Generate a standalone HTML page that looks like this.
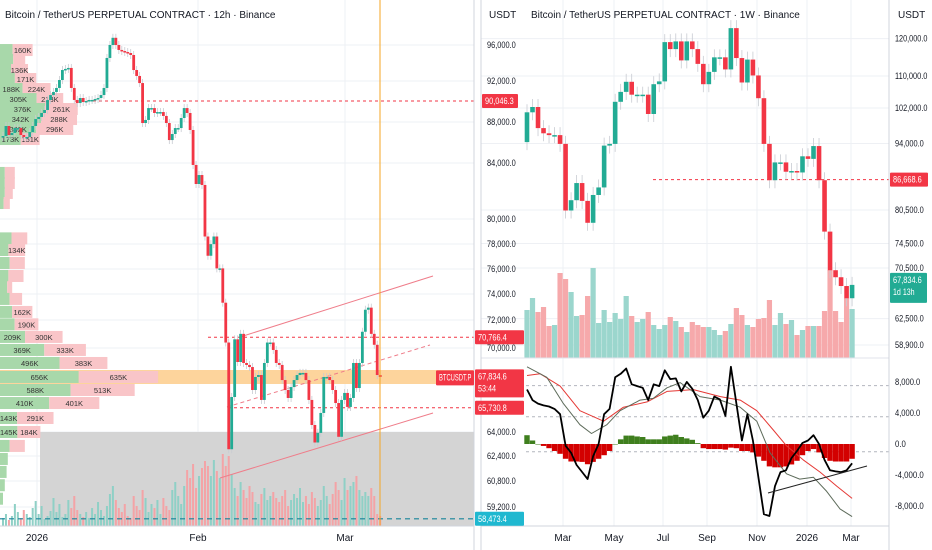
<!DOCTYPE html>
<html><head><meta charset="utf-8">
<style>
html,body{margin:0;padding:0;background:#fff;}
svg{display:block;font-family:"Liberation Sans",sans-serif;}
</style></head>
<body>
<svg id="chart" width="932" height="550" viewBox="0 0 932 550" xmlns="http://www.w3.org/2000/svg">
<rect x="0" y="0" width="932" height="550" fill="#ffffff"/>
<g id="grid"></g>
<g id="leftPane"></g>
<g id="rightPane"></g>
<g id="osc"></g>
<g id="axes"></g>
</svg>
<script>
// ---------- LEFT CHART DATA (12h) ----------
const leftFirstOpen = 86500;
const leftCloses = [86630,87610,86730,86930,87410,87410,86730,86540,86540,87020,87610,88290,88490,88880,89170,90150,90630,90930,91320,92110,93220,93340,93450,91320,90150,89850,90340,89950,90050,90150,90150,90240,90340,90630,91320,94560,96000,96800,96000,95450,95330,95220,95110,94890,93220,92560,91800,87900,88200,89360,89360,88880,88970,88970,88590,87900,86240,86830,87410,87410,88390,89360,88880,87220,83860,82500,83140,82430,78600,
77060,77990,78600,76050,76050,73330,70390,62850,66500,70620,69000,71010,68930,68790,68640,67000,67930,68070,66290,68930,70390,70390,69860,68930,68790,67710,67000,66430,67210,67710,68070,68220,68220,67710,66290,64500,63300,63940,65360,67930,67930,67710,67000,66070,63680,66290,66790,65790,66430,68930,67140,68930,71160,72790,72950,71010,70230,68070,67930];
const leftVolumes = [8,12,6,10,22,14,8,16,12,9,18,25,12,20,7,10,15,28,14,22,9,12,26,18,30,16,12,9,14,8,18,
12,24,16,10,20,32,40,26,18,14,22,10,8,30,20,16,36,28,14,22,18,26,12,28,20,16,36,44,30,22,
40,56,48,62,38,50,58,65,
60,50,66,55,48,72,60,70,52,38,30,44,36,28,40,34,24,22,32,38,26,30,
34,28,24,30,36,20,26,32,28,38,24,30,22,34,28,20,26,40,30,22,32,44,36,26,48,36,40,44,50,36,30,34,30,38,30,12,10];
const leftTickVals = [96000,92000,88000,84000,80000,78000,76000,74000,72000,70000,64000,62400,60800,59200];
const leftTickLabels = ["96,000.0","92,000.0","88,000.0","84,000.0","80,000.0","78,000.0","76,000.0","74,000.0","72,000.0","70,000.0","64,000.0","62,400.0","60,800.0","59,200.0"];
const leftTimeLabels = ["2026","Feb","Mar"];
const profilePrices = [95440,94330,93220,92220,91220,90240,89270,88290,87320,86340,83290,82570,81860,81140,78450,77520,76480,75440,74560,73620,72620,71690,70790,69860,68930,67930,67000,66070,65000,64000,63070,62210,61380,60540,59710];
const profileBuy = [105,110,92,124,188,305,376,342,302,173,40,40,40,30,96,70,80,70,60,80,101,122,209,369,496,656,588,410,143,145,80,65,55,40,25];
const profileSell = [160,96,136,171,224,213,261,288,296,151,80,80,64,50,126,134,122,121,40,100,162,190,300,333,383,635,513,401,291,184,122,0,0,0,0];
const leftLevels = [90046.3,70766.4,65730.8];
const lastPrice = 67834.6;
const lowLevel = 58473.4;

// ---------- RIGHT CHART DATA (1W) ----------
const rightFirstOpen = 94315;
const rightCloses = [101030,102250,97470,96300,95890,95890,93920,80410,82490,85970,82350,78210,83550,85080,93570,93920,103550,106030,108550,105330,105330,105330,100650,107950,108650,119060,117190,119250,114170,119250,117190,113240,107950,111100,114990,114990,111760,122800,114800,108380,114390,110150,104450,93920,86550,90160,90160,88270,88410,88120,91400,90880,93480,86550,76630,70150,69040,67650,65720,67830];
const rightVolumes = [48,60,46,51,32,33,85,79,66,42,43,62,90,35,48,36,45,39,62,42,36,39,46,33,29,33,41,37,31,26,36,33,31,31,28,23,27,34,50,43,33,31,39,40,58,33,45,34,38,23,28,32,32,32,47,88,47,36,60,49];
const rightTickVals = [120000,110000,102000,94000,80500,74500,70500,62500,58900];
const rightTickLabels = ["120,000.0","110,000.0","102,000.0","94,000.0","80,500.0","74,500.0","70,500.0","62,500.0","58,900.0"];
const rightTimeLabels = ["Mar","May","Jul","Sep","Nov","2026","Mar"];
const rightLevel = 86668.6;
const histValues = [1130,450,0,-250,-540,-900,-1260,-1900,-2250,-2250,-2300,-2600,-2300,-1900,-1440,-900,0,600,1080,1080,970,900,600,600,600,970,1080,1190,900,720,540,110,-540,-650,-650,-650,-720,-470,-540,-900,-900,-1080,-1620,-2160,-2880,-3000,-3000,-2880,-2630,-2160,-1440,-900,-650,-1080,-1800,-2160,-2250,-2250,-2250,-1900];
const macdValues = [7000,5640,5190,4960,4820,4510,3830,-230,-1130,-2700,-3600,-4510,-1580,0,3830,4510,8570,9020,9700,7670,7440,7220,5640,7670,7440,9470,8340,8430,6760,7980,7100,5640,3380,4280,6090,5730,3610,9920,5190,450,3830,450,-4280,-9020,-9250,-5410,-3610,-3380,-1800,-900,140,450,1130,0,-2030,-3380,-3520,-3610,-3380,-2480];
const signalIdx = [0,3.6,6.6,9.6,11.7,14.5,16.9,20.5,22.9,25.4,27.8,31.4,35.1,38.7,41.7,44.1,47.1,49.5,52,54.4,56.8,59];
const signalValues = [9920,8570,5190,2480,1350,2480,4280,5640,5860,7220,7890,6090,5640,4730,2930,-1130,-3830,-4510,-4280,-6090,-8340,-9330];
const slowIdx = [0,2.4,6,9.6,13.9,17.5,21.8,25.4,30.2,35.1,38.7,41.7,44.7,47.1,50.1,53.2,56.2,59];
const slowValues = [8800,9020,7440,4280,2930,4730,5410,6760,6990,6090,5640,4280,1800,-230,-2030,-3610,-5410,-6990];
const oscTickVals = [8000,4000,0,-4000,-8000];
const oscTickLabels = ["8,000.0","4,000.0","0.0","-4,000.0","-8,000.0"];
const oscBands = [7500,3500,-1000];

// ---------- layout ----------
const NS="http://www.w3.org/2000/svg";
const leftTickPos=[45,81,122,163,219,244,269,294,320,348,432,456,481,507];
const rightTickPos=[38.6,76,108,143.5,210,243.5,268,318.6,345];
const leftTimePos=[37,198,345];
const rightTimePos=[563,614,663,707,757,807,851];
const GREEN="#22ab94", RED="#f23645";
function interp(v,vals,pos){
  let n=vals.length;
  if(v>=vals[0]){return pos[0]-(v-vals[0])*(pos[1]-pos[0])/(vals[0]-vals[1]);}
  if(v<=vals[n-1]){return pos[n-1]+(vals[n-1]-v)*(pos[n-1]-pos[n-2])/(vals[n-2]-vals[n-1]);}
  for(let i=0;i<n-1;i++){ if(v<=vals[i]&&v>=vals[i+1]){return pos[i]+(vals[i]-v)/(vals[i]-vals[i+1])*(pos[i+1]-pos[i]);} }
}
const yL=v=>interp(v,leftTickVals,leftTickPos);
const yR=v=>interp(v,rightTickVals,rightTickPos);
const yO=v=>444-v*0.00778;
const xL=i=>3+i*2.97;
const xR=i=>527+i*5.51;
function el(tag,attrs,parent,text){const e=document.createElementNS(NS,tag);for(const k in attrs)e.setAttribute(k,attrs[k]);if(text!==undefined)e.textContent=text;parent.appendChild(e);return e;}
function fit(t,s){t.setAttribute('textLength',(s.length*3.6).toFixed(1));t.setAttribute('lengthAdjust','spacingAndGlyphs');}
const grid=document.getElementById('grid'),LP=document.getElementById('leftPane'),RP=document.getElementById('rightPane'),OS=document.getElementById('osc'),AX=document.getElementById('axes');

leftTickVals.forEach(v=>{const g=el('line',{x1:0,x2:474,y1:yL(v),y2:yL(v),stroke:'#eef0f4','stroke-width':1},grid);});
leftTimePos.forEach(x=>{const g=el('line',{x1:x,x2:x,y1:0,y2:526,stroke:'#eef0f4'},grid);});
rightTickVals.forEach(v=>{const g=el('line',{x1:481,x2:889,y1:yR(v),y2:yR(v),stroke:'#eef0f4'},grid);});
rightTimePos.forEach(x=>{const g=el('line',{x1:x,x2:x,y1:0,y2:526,stroke:'#eef0f4'},grid);});

// LEFT PANE
let r=el('rect',{x:40,y:432,width:434,height:94,fill:'#d4d4d4'},LP);

r=el('rect',{x:0,y:370,width:474,height:14,fill:'#fdd49c'},LP);

profilePrices.forEach((p,i)=>{
  const y=yL(p), gw=profileBuy[i]*0.12, sw=profileSell[i]*0.125;
  const a=el('rect',{x:0,y:y-6,width:gw,height:12,fill:'#a8d8aa'},LP);
  
  if(sw>0){const b=el('rect',{x:gw,y:y-6,width:sw,height:12,fill:'#f9c5c8'},LP);
  }
  if(gw>16){const t=el('text',{x:gw/2,y:y+3,'font-size':7.5,'text-anchor':'middle',fill:'#333'},LP,profileBuy[i]+'K');}
  if(sw>16){const t=el('text',{x:gw+sw/2,y:y+3,'font-size':7.5,'text-anchor':'middle',fill:'#333'},LP,profileSell[i]+'K');}
});
leftVolumes.forEach((v,i)=>{
  const o=i?leftCloses[i-1]:leftFirstOpen, c=leftCloses[i];
  const b=el('rect',{x:xL(i)-1,y:526-v,width:2,height:v,fill:c>=o?'#8fd0c6':'#f4a3a6'},LP);
  
});
[[leftLevels[0],75],[leftLevels[1],208],[leftLevels[2],228]].forEach(([v,x0])=>{
  const l=el('line',{x1:x0,x2:474,y1:yL(v),y2:yL(v),stroke:RED,'stroke-width':1,'stroke-dasharray':'3,3'},LP);
  
});
let l=el('line',{x1:0,x2:474,y1:yL(lowLevel),y2:yL(lowLevel),stroke:'#17839a','stroke-width':1.2,'stroke-dasharray':'5,4'},LP);

l=el('line',{x1:240,y1:337,x2:433,y2:276,stroke:'#ef7d8a','stroke-width':1},LP);
l=el('line',{x1:220,y1:478,x2:433,y2:413,stroke:'#ef7d8a','stroke-width':1},LP);
l=el('line',{x1:227,y1:407,x2:430,y2:345,stroke:'#ef7d8a','stroke-width':1,'stroke-dasharray':'4,3'},LP);
leftCloses.forEach((c,i)=>{
  const o=i?leftCloses[i-1]:leftFirstOpen, y1=yL(Math.max(o,c)), y2=yL(Math.min(o,c));
  const w=el('line',{x1:xL(i),x2:xL(i),y1:y1-4,y2:y2+4,stroke:'#c8cbd2','stroke-width':0.8},LP);
  
  const b=el('rect',{x:xL(i)-1.4,y:y1,width:2.8,height:Math.max(1.5,y2-y1),fill:c>=o?GREEN:RED},LP);
  
});
l=el('line',{x1:380,x2:380,y1:0,y2:526,stroke:'#f5a623','stroke-width':1},LP);

// RIGHT PANE
rightVolumes.forEach((v,i)=>{
  const o=i?rightCloses[i-1]:rightFirstOpen,c=rightCloses[i];
  const b=el('rect',{x:xR(i)-2.6,y:358-v,width:5.2,height:v,fill:c>=o?'#9bd6cd':'#f6a9ab'},RP);
  
});
l=el('line',{x1:653,x2:889,y1:yR(rightLevel),y2:yR(rightLevel),stroke:RED,'stroke-dasharray':'3,3'},RP);
rightCloses.forEach((c,i)=>{
  const o=i?rightCloses[i-1]:rightFirstOpen,y1=yR(Math.max(o,c)),y2=yR(Math.min(o,c));
  const w=el('line',{x1:xR(i),x2:xR(i),y1:y1-8,y2:y2+8,stroke:'#c8cbd2','stroke-width':0.8},RP);
  
  const b=el('rect',{x:xR(i)-2.3,y:y1,width:4.6,height:Math.max(1.5,y2-y1),fill:c>=o?GREEN:RED},RP);
  
});
l=el('line',{x1:481,x2:889,y1:358,y2:358,stroke:'#e0e3eb'},RP);

// OSCILLATOR
oscBands.forEach(v=>{const b=el('line',{x1:526,x2:889,y1:yO(v),y2:yO(v),stroke:'#b2b5be','stroke-dasharray':'3,3'},OS);});
histValues.forEach((v,i)=>{
  const y=yO(Math.max(v,0)),h=Math.abs(yO(v)-yO(0));
  const b=el('rect',{x:xR(i)-2.7,y:y,width:5.4,height:Math.max(h,0.5),fill:v>=0?'#3f7f1e':'#d30000'},OS);
  
});
function poly(xs,vals,stroke,w,name){
  const pts=vals.map((v,i)=>xR(xs?xs[i]:i).toFixed(1)+','+yO(v).toFixed(1)).join(' ');
  const p=el('polyline',{points:pts,fill:'none',stroke:stroke,'stroke-width':w,'stroke-linejoin':'round'},OS);
  
}
poly(slowIdx,slowValues,'#e53935',1,'slow-line');
poly(signalIdx,signalValues,'#5d6b5a',1,'signal-line');
poly(null,macdValues,'#000000',1.8,'macd-line');
l=el('line',{x1:768,y1:493,x2:867,y2:466,stroke:'#222',"stroke-width":1},OS);

// AXES
[[474,0,474,550],[481,0,481,550],[889,0,889,550],[0,526,474,526],[481,526,889,526]].forEach(a=>{
  const b=el('line',{x1:a[0],y1:a[1],x2:a[2],y2:a[3],stroke:'#d1d4dc'},AX);
});
leftTickVals.forEach((v,i)=>{const t=el('text',{x:487,y:yL(v)+3,'font-size':9,fill:'#131722'},AX,leftTickLabels[i]);fit(t,leftTickLabels[i]);});
rightTickVals.forEach((v,i)=>{const t=el('text',{x:895,y:yR(v)+3,'font-size':9,fill:'#131722'},AX,rightTickLabels[i]);fit(t,rightTickLabels[i]);});
oscTickVals.forEach((v,i)=>{const t=el('text',{x:895,y:yO(v)+3,'font-size':9,fill:'#131722'},AX,oscTickLabels[i]);fit(t,oscTickLabels[i]);});
leftTimeLabels.forEach((s,i)=>{const t=el('text',{x:leftTimePos[i],y:541,'font-size':10,'text-anchor':'middle',fill:'#131722'},AX,s);});
rightTimeLabels.forEach((s,i)=>{const t=el('text',{x:rightTimePos[i],y:541,'font-size':10,'text-anchor':'middle',fill:'#131722'},AX,s);});
let t=el('text',{x:5,y:18,'font-size':10,fill:'#131722'},AX,'Bitcoin / TetherUS PERPETUAL CONTRACT · 12h · Binance');
t=el('text',{x:531,y:18,'font-size':10,fill:'#131722'},AX,'Bitcoin / TetherUS PERPETUAL CONTRACT · 1W · Binance');
t=el('text',{x:489,y:18,'font-size':10,fill:'#131722'},AX,'USDT');
t=el('text',{x:898,y:18,'font-size':10,fill:'#131722'},AX,'USDT');
function tag(x,y,w,h,fill,lines,name,fs){
  const b=el('rect',{x:x,y:y,width:w,height:h,fill:fill,rx:1},AX);
  lines.forEach((s,i)=>{const tt=el('text',{x:x+3,y:y+10+i*12,'font-size':fs||9,fill:'#fff'},AX,s);fit(tt,s);});
}
tag(482,yL(leftLevels[0])-7,36,14,RED,['90,046.3'],'level-tag');
tag(475,yL(leftLevels[1])-7,49,14,RED,['70,766.4'],'level-tag');
tag(475,yL(lastPrice)-9,49,28,RED,['67,834.6','53:44'],'last-price-tag');
tag(436,yL(lastPrice)-8,38,15,RED,['BTCUSDT.P'],'symbol-tag');
tag(475,yL(leftLevels[2])-7,49,14,RED,['65,730.8'],'level-tag');
tag(475,yL(lowLevel)-7,49,14,'#1fb8d0',['58,473.4'],'low-tag');
tag(890,yR(rightLevel)-7,38,14,RED,['86,668.6'],'right-level-tag');
tag(890,yR(lastPrice)-12,37,30,GREEN,['67,834.6','1d 13h'],'right-last-tag');
</script>
</body></html>
